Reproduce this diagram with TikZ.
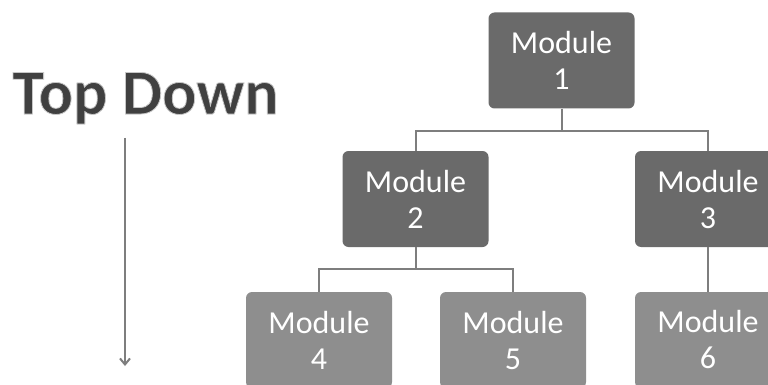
\documentclass[tikz,border=0pt]{standalone}
\usepackage{fontspec}
\setmainfont{Carlito}
\usetikzlibrary{arrows.meta}
\definecolor{darkbox}{HTML}{6A6A6A}
\definecolor{lightbox}{HTML}{8E8E8E}
\definecolor{linegray}{HTML}{7E7E7E}
\definecolor{titlegray}{HTML}{404040}
\newcommand{\outlinetext}[1]{\special{pdf:code q 2 Tr 0.8 w 0.78 G}#1\special{pdf:code Q}}
\tikzset{
  modbox/.style={rounded corners=6pt, minimum width=146pt, minimum height=96pt,
    text=white, align=center, inner sep=0pt,
    font=\fontsize{32}{36}\selectfont},
  topbox/.style={modbox, fill=darkbox},
  lowbox/.style={modbox, fill=lightbox},
  conn/.style={draw=linegray, line width=2pt},
  titletext/.style={font=\fontsize{64}{68}\selectfont\bfseries, anchor=base}
}
\begin{document}
\begin{tikzpicture}[x=1pt,y=-1pt]
\useasboundingbox (0,0) rectangle (768,385);
\clip (0,0) rectangle (768,385);
\fill[white] (0,0) rectangle (768,385);
% title
\node[titletext, text=titlegray] (title) at (145.5,114) {\outlinetext{Top Down}};
% arrow
\coordinate (a0) at (125,138);
\coordinate (a1) at (125,366);
\draw[conn, -{Straight Barb[length=6pt,width=10pt]}] (a0) -- (a1);
% boxes
\node[topbox] (m1) at (561.5,60.5) {Module\\1};
\node[topbox] (m2) at (415.5,199) {Module\\2};
\node[topbox] (m3) at (708,199) {Module\\3};
\node[lowbox] (m4) at (319,340) {Module\\4};
\node[lowbox] (m5) at (513,340) {Module\\5};
\node[lowbox] (m6) at (708,340) {Module\\6};
% connectors
\coordinate (b1) at (561.5,131);
\coordinate (b2) at (415.5,269);
\draw[conn] (m1.south) -- (b1);
\draw[conn] (m2.north) |- (b1) -| (m3.north);
\draw[conn] (m2.south) -- (b2);
\draw[conn] (m4.north) |- (b2) -| (m5.north);
\draw[conn] (m3.south) -- (m6.north);
\end{tikzpicture}
\end{document}
